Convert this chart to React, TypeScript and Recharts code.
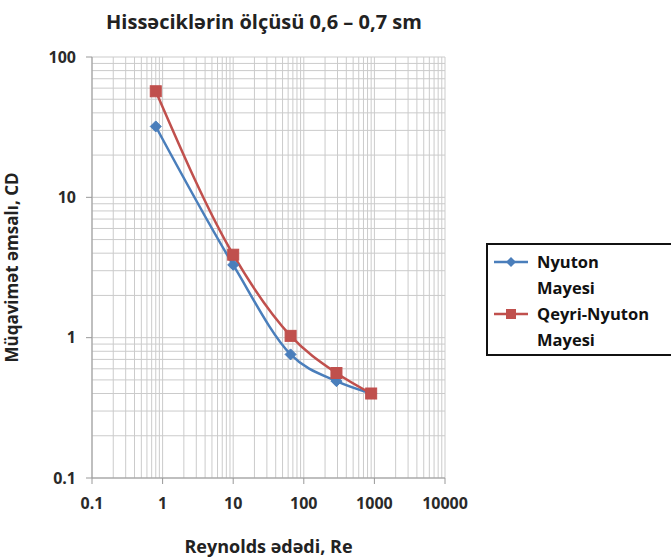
import { LineChart, Line, XAxis, YAxis, CartesianGrid, Label } from "recharts";

const reynolds = [0.8, 10, 65, 290, 900];
const newtonian = [32, 3.3, 0.76, 0.49, 0.4];
const nonNewtonian = [57, 3.9, 1.03, 0.56, 0.4];

const xTicks = [0.1, 1, 10, 100, 1000, 10000];
const yTicks = [0.1, 1, 10, 100];

const BLUE = "#4a7ebb";
const RED = "#c0504d";
const FONT = "'Open Sans', 'Liberation Sans', sans-serif";
const TICK_SIZE = 6;

// minor log grid: 1..9 in every decade
function logSteps(decades: number[]): number[] {
  const out: number[] = [];
  decades.slice(0, -1).forEach((d) => {
    for (let k = 1; k <= 9; k++) out.push(+(d * k).toPrecision(3));
  });
  out.push(decades[decades.length - 1]);
  return out;
}

const isMajor = (v: number, majors: number[]) => majors.some((m) => Math.abs(m - v) < 1e-9);

const data = reynolds.map((re, i) => ({
  re,
  newton: newtonian[i],
  nonNewton: nonNewtonian[i],
}));

const tickText = { fontSize: 16, fontWeight: 700, fill: "#2a2a2a", fontFamily: FONT };

function XTick(props: any) {
  const { x, y, payload } = props;
  if (!isMajor(payload.value, xTicks)) return null;
  const axisY = y - TICK_SIZE - 14;
  return (
    <g>
      <line x1={x} y1={axisY} x2={x} y2={axisY + TICK_SIZE} stroke="#999" />
      <text x={x} y={y} dy="0.71em" textAnchor="middle" {...tickText}>
        {String(payload.value)}
      </text>
    </g>
  );
}

function YTick(props: any) {
  const { x, y, payload } = props;
  if (!isMajor(payload.value, yTicks)) return null;
  const axisX = x + TICK_SIZE + 10;
  return (
    <g>
      <line x1={axisX - TICK_SIZE} y1={y} x2={axisX} y2={y} stroke="#999" />
      <text x={x} y={y} dy="0.355em" textAnchor="end" {...tickText}>
        {String(payload.value)}
      </text>
    </g>
  );
}

function Diamond(props: any) {
  const { cx, cy, key } = props;
  if (typeof cx !== "number" || typeof cy !== "number") return null;
  const s = 5.5;
  return (
    <path
      key={key}
      d={`M${cx},${cy - s}L${cx + s},${cy}L${cx},${cy + s}L${cx - s},${cy}Z`}
      fill={BLUE}
      stroke={BLUE}
    />
  );
}

function Square(props: any) {
  const { cx, cy, key } = props;
  if (typeof cx !== "number" || typeof cy !== "number") return null;
  const s = 5.5;
  return <rect key={key} x={cx - s} y={cy - s} width={s * 2} height={s * 2} fill={RED} stroke={RED} />;
}

function LegendSwatch({ color, square }: { color: string; square?: boolean }) {
  return (
    <svg width={34} height={12} style={{ display: "block" }}>
      <line x1={0} y1={6} x2={34} y2={6} stroke={color} strokeWidth={2.5} />
      {square ? (
        <rect x={12} y={1} width={10} height={10} fill={color} />
      ) : (
        <path d="M17,1L22,6L17,11L12,6Z" fill={color} />
      )}
    </svg>
  );
}

export default function App() {
  return (
    <div style={{ position: "absolute", left: 0, top: 0, width: 671, height: 560, background: "#fff", fontFamily: FONT }}>
      <div
        style={{
          position: "absolute",
          left: 0,
          width: 528,
          top: 8,
          textAlign: "center",
          fontSize: 20,
          fontWeight: 700,
          color: "#222",
        }}
      >
        Hissəciklərin ölçüsü 0,6 – 0,7 sm
      </div>

      <LineChart width={671} height={560} data={data} margin={{ top: 57, right: 226, bottom: 52, left: 0 }}>
        <CartesianGrid stroke="#cbcbcb" strokeWidth={1} />
        <XAxis
          dataKey="re"
          type="number"
          scale="log"
          domain={[0.1, 10000]}
          ticks={logSteps(xTicks)}
          interval={0}
          allowDataOverflow
          height={30}
          stroke="#999"
          tickLine={false}
          tickSize={TICK_SIZE}
          tickMargin={14}
          tick={<XTick />}
        >
          <Label
            value="Reynolds ədədi, Re"
            position="bottom"
            offset={32}
            style={{ fontSize: 18, fontWeight: 700, fill: "#222", fontFamily: FONT }}
          />
        </XAxis>
        <YAxis
          type="number"
          scale="log"
          domain={[0.1, 100]}
          ticks={logSteps(yTicks)}
          interval={0}
          allowDataOverflow
          width={92}
          stroke="#999"
          tickLine={false}
          tickSize={TICK_SIZE}
          tickMargin={10}
          tick={<YTick />}
        >
          <Label
            value="Müqavimət əmsalı, CD"
            angle={-90}
            position="insideLeft"
            offset={12}
            style={{ textAnchor: "middle", fontSize: 17, fontWeight: 700, fill: "#222", fontFamily: FONT }}
          />
        </YAxis>
        <Line
          type="monotone"
          dataKey="newton"
          name="Nyuton Mayesi"
          stroke={BLUE}
          strokeWidth={2.5}
          dot={Diamond}
          isAnimationActive={false}
        />
        <Line
          type="monotone"
          dataKey="nonNewton"
          name="Qeyri-Nyuton Mayesi"
          stroke={RED}
          strokeWidth={2.5}
          dot={Square}
          isAnimationActive={false}
        />
      </LineChart>

      <div
        style={{
          position: "absolute",
          left: 486,
          top: 243,
          width: 190,
          height: 113,
          border: "2px solid #111",
          boxSizing: "border-box",
          padding: "4px 6px 0 6px",
          fontSize: 16.5,
          fontWeight: 700,
          color: "#111",
          lineHeight: "26px",
        }}
      >
        <div style={{ display: "flex", alignItems: "flex-start" }}>
          <div style={{ marginTop: 7, marginRight: 9 }}>
            <LegendSwatch color={BLUE} />
          </div>
          <div>
            Nyuton
            <br />
            Mayesi
          </div>
        </div>
        <div style={{ display: "flex", alignItems: "flex-start" }}>
          <div style={{ marginTop: 7, marginRight: 9 }}>
            <LegendSwatch color={RED} square />
          </div>
          <div>
            Qeyri-Nyuton
            <br />
            Mayesi
          </div>
        </div>
      </div>
    </div>
  );
}
